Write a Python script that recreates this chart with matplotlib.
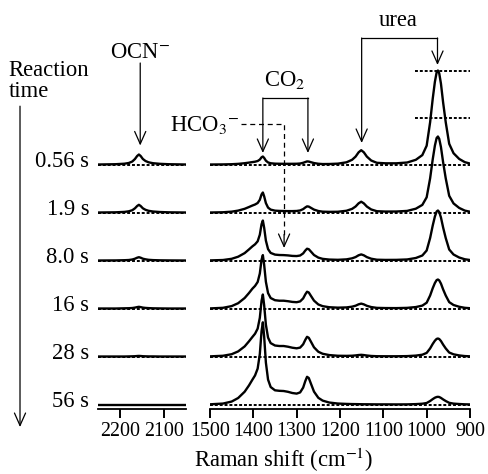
import numpy as np
import matplotlib
matplotlib.use("Agg")
from matplotlib import pyplot as plt

plt.rcParams['font.family'] = ['Liberation Serif', 'DejaVu Serif']
plt.rcParams['mathtext.fontset'] = 'stix'

times = ['0.56 s', '1.9 s', '8.0 s', '16 s', '28 s', '56 s']
offsets = [240, 192, 144, 96, 48, 0]

# OCN- region (left panel)
wn_left = [2250, 2210, 2190, 2180, 2172, 2166, 2161, 2157, 2153, 2148, 2142, 2135, 2125, 2110, 2090, 2050]
left_0 = [0, 0.3, 0.8, 1.5, 3, 5.5, 8.5, 10, 8.5, 5.5, 3.5, 2.2, 1.3, 0.7, 0.3, 0]
left_1 = [0, 0.2, 0.6, 1.2, 2.3, 4.2, 6.5, 7.7, 6.5, 4.2, 2.7, 1.7, 1.0, 0.5, 0.2, 0]
left_2 = [0, 0.1, 0.3, 0.5, 1.0, 1.8, 2.8, 3.3, 2.8, 1.8, 1.2, 0.7, 0.4, 0.2, 0.1, 0]
left_3 = [0, 0, 0.2, 0.3, 0.5, 0.9, 1.4, 1.7, 1.4, 0.9, 0.6, 0.4, 0.2, 0.1, 0, 0]
left_4 = [0, 0, 0, 0.1, 0.2, 0.3, 0.5, 0.6, 0.5, 0.3, 0.2, 0.1, 0.1, 0, 0, 0]
left_5 = [0] * 16

# 1500-900 cm-1 region (right panel)
wn_right = [1500, 1470, 1450, 1435, 1420, 1410, 1402, 1396, 1390, 1385,
            1381, 1378, 1375, 1371, 1366, 1360, 1350, 1340, 1330, 1320,
            1310, 1300, 1292, 1285, 1280, 1276, 1272, 1267, 1260, 1250,
            1240, 1225, 1205, 1185, 1172, 1164, 1157, 1151, 1145, 1138,
            1128, 1115, 1095, 1070, 1045, 1025, 1010, 1000, 992, 986,
            981, 977, 974, 971, 967, 962, 956, 948, 938, 925, 912, 900]
right_0 = [0, 0.1, 0.3, 0.65, 1.3, 1.9, 2.4, 2.8, 3.5, 4.9,
           7.2, 8.0, 6.6, 3.85, 2.05, 1.25, 0.85, 0.75, 0.7, 0.7,
           0.7, 0.75, 1.0, 1.7, 2.5, 3.1, 2.95, 2.3, 1.45, 0.75,
           0.45, 0.5, 0.85, 2.2, 4.75, 7.9, 12.2, 14.3, 12.2, 7.9,
           4.0, 1.7, 1.2, 1.2, 2.0, 4.7, 9.4, 18.8, 42.3, 65.8,
           82.7, 92.1, 94, 91.2, 80.8, 62, 42.3, 20.7, 11.3, 5.6, 2.35, 0.94]
right_1 = [0, 0.25, 0.85, 1.9, 3.7, 5.5, 7.0, 8.0, 9.5, 12.7,
           18.1, 20, 16.2, 9.4, 4.9, 2.9, 1.85, 1.6, 1.5, 1.4,
           1.4, 1.55, 2.05, 3.4, 5.05, 6.15, 5.9, 4.65, 2.9, 1.5,
           0.85, 0.65, 0.75, 1.75, 3.65, 6.0, 9.2, 10.8, 9.15, 5.95,
           3.05, 1.3, 0.95, 1.0, 1.6, 3.8, 7.6, 15.2, 34.2, 53.2,
           66.9, 74.5, 76, 73.7, 65.4, 50.2, 34.2, 16.7, 9.1, 4.6, 1.9, 0.8]
right_2 = [0.1, 0.5, 1.7, 3.8, 7.4, 11.1, 14.2, 16.2, 19.2, 25.8,
           36.3, 40, 32.8, 19.9, 11.4, 7.6, 5.9, 5.5, 5.4, 5.1,
           4.6, 4.45, 5.0, 7.1, 10, 11.8, 11.3, 8.9, 5.5, 2.9,
           1.65, 0.95, 0.7, 1.15, 2.2, 3.45, 5.25, 6.1, 5.2, 3.4,
           1.8, 0.8, 0.6, 0.65, 1.05, 2.5, 5, 10, 22.5, 35,
           44, 49, 50, 48.5, 43, 33, 22.5, 11, 6, 3, 1.25, 0.5]
right_3 = [0.1, 0.7, 2.4, 5.3, 10.5, 15.5, 19.9, 22.6, 26.5, 35,
           48.8, 53.4, 43.8, 26.7, 15.4, 10.5, 8.3, 7.8, 7.8, 7.3,
           6.6, 6.3, 7.1, 10.1, 14.2, 16.8, 16, 12.6, 7.9, 4.05,
           2.35, 1.3, 0.85, 1.1, 1.85, 2.8, 4.2, 4.9, 4.15, 2.7,
           1.45, 0.65, 0.45, 0.4, 0.65, 1.45, 2.9, 5.8, 13, 20.3,
           25.5, 28.4, 29, 28.1, 24.9, 19.1, 13, 6.4, 3.5, 1.75, 0.7, 0.3]
right_4 = [0.15, 0.75, 2.3, 5.1, 10.1, 15.2, 19.6, 22.8, 27.9, 38.7,
           55.7, 62, 51.3, 31.8, 18.9, 13.4, 11, 10.5, 10.5, 9.8,
           8.8, 8.2, 8.9, 12.2, 16.7, 19.7, 18.7, 14.8, 9.2, 4.75,
           2.75, 1.45, 0.75, 0.65, 0.8, 1.1, 1.5, 1.7, 1.45, 1.0,
           0.55, 0.3, 0.25, 0.25, 0.4, 0.9, 1.8, 3.6, 8.1, 12.6,
           15.8, 17.6, 18, 17.5, 15.5, 11.9, 8.1, 4, 2.2, 1.1, 0.45, 0.2]
right_5 = [0.2, 0.95, 2.95, 6.5, 12.8, 19.1, 24.9, 29.1, 35.9, 50.5,
           73.4, 82.2, 68, 41.9, 24.9, 17.5, 14.2, 13.7, 13.5, 12.7,
           11.5, 10.9, 12.1, 16.9, 23.5, 27.7, 26.5, 20.8, 12.9, 6.7,
           3.9, 2.0, 0.97, 0.6, 0.45, 0.4, 0.35, 0.3, 0.25, 0.25,
           0.2, 0.15, 0.15, 0.1, 0.15, 0.4, 0.8, 1.5, 3.5, 5.4,
           6.8, 7.5, 7.7, 7.5, 6.6, 5.1, 3.5, 1.7, 0.9, 0.5, 0.2, 0.1]

left_spectra = [left_0, left_1, left_2, left_3, left_4, left_5]
right_spectra = [right_0, right_1, right_2, right_3, right_4, right_5]

fig = plt.figure(figsize=(4.88, 4.74), dpi=100)
ax1 = fig.add_axes([0.2008, 0.1371, 0.1803, 0.8629])
ax2 = fig.add_axes([0.4303, 0.1371, 0.5328, 0.8629])

dot = (0, (1.5, 1.0))
for ax, wn, spectra, ticks in [(ax1, wn_left, left_spectra, [2200, 2100]),
                               (ax2, wn_right, right_spectra, [1500, 1400, 1300, 1200, 1100, 1000, 900])]:
    for off, s in zip(offsets, spectra):
        ax.plot([wn[0], wn[-1]], [off, off], color='black', lw=1.4, ls=dot)
        ax.plot(wn, np.array(s) + off, color='black', lw=1.7)
    ax.set_xlim(wn[0], wn[-1])
    ax.set_ylim(-4.5, 404.5)
    ax.set_xticks(ticks)
    ax.set_yticks([])
    for side in ['left', 'right', 'top']:
        ax.spines[side].set_visible(False)
    ax.spines['bottom'].set_linewidth(1.3)
    ax.tick_params(axis='x', direction='out', length=6.5, width=1.4, pad=3, labelsize=14.4)
    ax.patch.set_alpha(0)

# peak height markers for the top urea band
ax2.plot([1027, 900], [334, 334], color='black', lw=1.4, ls=dot, clip_on=False)
ax2.plot([1027, 900], [287, 287], color='black', lw=1.4, ls=dot, clip_on=False)

fs = 16.3
for t, off in zip(times, offsets):
    ax1.text(2270, off + 3.5, t, ha='right', va='center', fontsize=fs)

ap = dict(arrowstyle='->,head_length=0.45,head_width=0.2', lw=0.9, color='black',
          shrinkA=0, shrinkB=0, mutation_scale=20)


def arrow(ax, x, y0, y1):
    ax.annotate('', xy=(x, y1), xytext=(x, y0), arrowprops=ap, annotation_clip=False)


# OCN-
ax1.text(2154, 352.5, 'OCN$^{-}$', ha='center', va='center', fontsize=fs)
arrow(ax1, 2154, 341.5, 259)

# CO2
ax2.text(1327, 324.5, 'CO$_2$', ha='center', va='center', fontsize=fs)
ax2.plot([1378, 1274], [306.5, 306.5], color='black', lw=0.9, clip_on=False)
arrow(ax2, 1378, 306.5, 251.5)
arrow(ax2, 1274, 306.5, 251.5)

# urea
ax2.text(1066, 384.5, 'urea', ha='center', va='center', fontsize=fs)
ax2.plot([1150, 975], [366.5, 366.5], color='black', lw=0.9, clip_on=False)
arrow(ax2, 1150, 366.5, 261.5)
arrow(ax2, 975, 366.5, 339.5)

# HCO3-
ax2.text(1433, 279.5, 'HCO$_3$$^{-}$', ha='right', va='center', fontsize=fs)
ax2.plot([1428, 1329, 1329], [280.5, 280.5, 168], color='black', lw=0.9,
         ls=(0, (4, 3)), clip_on=False)
arrow(ax2, 1329, 170, 156.5)

# reaction time
fig.text(0.018, 0.852, 'Reaction', ha='left', va='center', fontsize=fs)
fig.text(0.018, 0.806, 'time', ha='left', va='center', fontsize=fs)
fig.add_artist(matplotlib.patches.FancyArrowPatch(
    (0.041, 0.776), (0.041, 0.099), transform=fig.transFigure,
    arrowstyle='->,head_length=0.45,head_width=0.2', lw=0.9, color='black',
    shrinkA=0, shrinkB=0, mutation_scale=20))

fig.text(0.582, 0.0295, 'Raman shift (cm$^{-1}$)', ha='center', va='center', fontsize=fs)

fig.savefig('out.png', dpi=100)
